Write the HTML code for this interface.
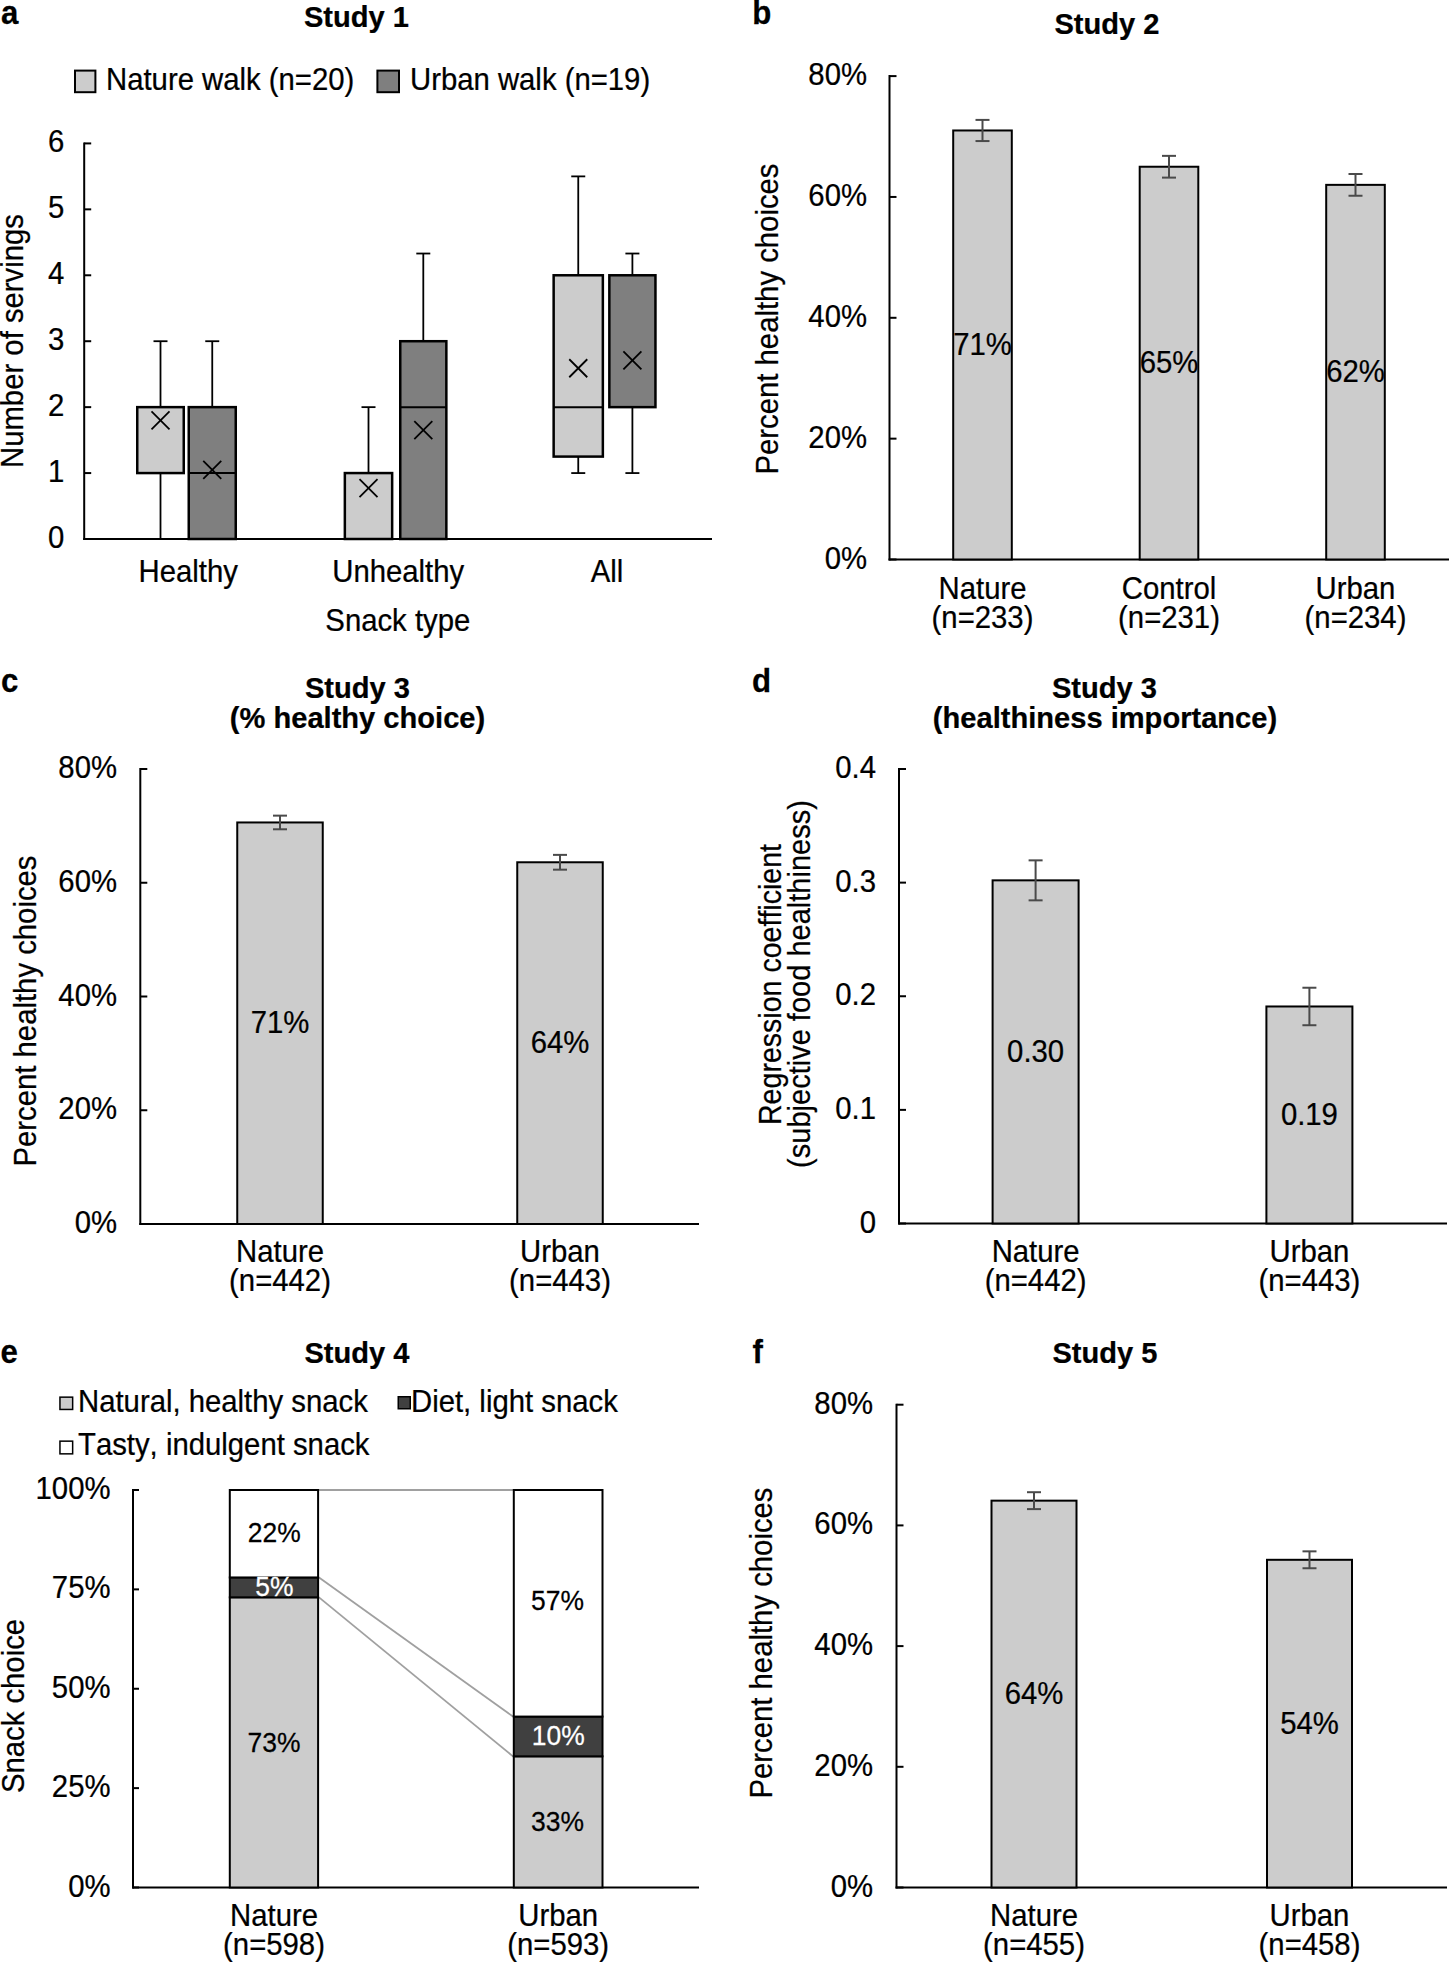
<!DOCTYPE html>
<html><head><meta charset="utf-8"><style>
html,body{margin:0;padding:0;background:#fff;}
svg{display:block;}
text{font-family:"Liberation Sans", sans-serif;font-kerning:none;font-variant-ligatures:none;}
</style></head><body>
<svg width="1450" height="1963" viewBox="0 0 1450 1963" font-family='"Liberation Sans", sans-serif'>
<rect width="1450" height="1963" fill="#fff"/>
<text transform="translate(1.0,24) scale(0.92,1)" font-size="34" font-weight="bold" fill="#000" stroke="#000" stroke-width="0.25">a</text>
<text transform="translate(356.5,27) scale(0.97,1)" font-size="30" text-anchor="middle" font-weight="bold" fill="#000" stroke="#000" stroke-width="0.25">Study 1</text>
<rect x="75.00" y="70.60" width="20.40" height="21.60" fill="#cccccc" stroke="#000" stroke-width="2"/>
<text transform="translate(106,90) scale(0.9451612903225807,1)" font-size="31" fill="#000" stroke="#000" stroke-width="0.25">Nature walk (n=20)</text>
<rect x="377.40" y="70.60" width="21.60" height="21.60" fill="#7f7f7f" stroke="#000" stroke-width="2"/>
<text transform="translate(410,90) scale(0.9451612903225807,1)" font-size="31" fill="#000" stroke="#000" stroke-width="0.25">Urban walk (n=19)</text>
<line x1="84.2" y1="142.41999999999996" x2="84.2" y2="540" stroke="#000" stroke-width="2"/>
<line x1="83.2" y1="539" x2="712" y2="539" stroke="#000" stroke-width="2"/>
<line x1="84.2" y1="539.0" x2="91.2" y2="539.0" stroke="#000" stroke-width="2"/>
<text transform="translate(64.3,548.0) scale(0.9451612903225807,1)" font-size="31" text-anchor="end" fill="#000" stroke="#000" stroke-width="0.25">0</text>
<line x1="84.2" y1="473.07" x2="91.2" y2="473.07" stroke="#000" stroke-width="2"/>
<text transform="translate(64.3,482.07) scale(0.9451612903225807,1)" font-size="31" text-anchor="end" fill="#000" stroke="#000" stroke-width="0.25">1</text>
<line x1="84.2" y1="407.14" x2="91.2" y2="407.14" stroke="#000" stroke-width="2"/>
<text transform="translate(64.3,416.14) scale(0.9451612903225807,1)" font-size="31" text-anchor="end" fill="#000" stroke="#000" stroke-width="0.25">2</text>
<line x1="84.2" y1="341.21" x2="91.2" y2="341.21" stroke="#000" stroke-width="2"/>
<text transform="translate(64.3,350.21) scale(0.9451612903225807,1)" font-size="31" text-anchor="end" fill="#000" stroke="#000" stroke-width="0.25">3</text>
<line x1="84.2" y1="275.28" x2="91.2" y2="275.28" stroke="#000" stroke-width="2"/>
<text transform="translate(64.3,284.28) scale(0.9451612903225807,1)" font-size="31" text-anchor="end" fill="#000" stroke="#000" stroke-width="0.25">4</text>
<line x1="84.2" y1="209.34999999999997" x2="91.2" y2="209.34999999999997" stroke="#000" stroke-width="2"/>
<text transform="translate(64.3,218.34999999999997) scale(0.9451612903225807,1)" font-size="31" text-anchor="end" fill="#000" stroke="#000" stroke-width="0.25">5</text>
<line x1="84.2" y1="143.41999999999996" x2="91.2" y2="143.41999999999996" stroke="#000" stroke-width="2"/>
<text transform="translate(64.3,152.41999999999996) scale(0.9451612903225807,1)" font-size="31" text-anchor="end" fill="#000" stroke="#000" stroke-width="0.25">6</text>
<line x1="160.5" y1="341.21" x2="160.5" y2="407.14" stroke="#000" stroke-width="1.8"/>
<line x1="153.5" y1="341.21" x2="167.5" y2="341.21" stroke="#000" stroke-width="1.8"/>
<line x1="160.5" y1="473.07" x2="160.5" y2="539.0" stroke="#000" stroke-width="1.8"/>
<line x1="153.5" y1="539.0" x2="167.5" y2="539.0" stroke="#000" stroke-width="1.8"/>
<rect x="137.25" y="407.14" width="46.50" height="65.93" fill="#cccccc" stroke="#000" stroke-width="2.5"/>
<line x1="151.5" y1="411.32599999999996" x2="169.5" y2="429.32599999999996" stroke="#000" stroke-width="1.8"/>
<line x1="151.5" y1="429.32599999999996" x2="169.5" y2="411.32599999999996" stroke="#000" stroke-width="1.8"/>
<line x1="212.25" y1="341.21" x2="212.25" y2="407.14" stroke="#000" stroke-width="1.8"/>
<line x1="205.25" y1="341.21" x2="219.25" y2="341.21" stroke="#000" stroke-width="1.8"/>
<rect x="188.75" y="407.14" width="47.00" height="131.86" fill="#7f7f7f" stroke="#000" stroke-width="2.5"/>
<line x1="188.5" y1="473.07" x2="236" y2="473.07" stroke="#000" stroke-width="2"/>
<line x1="203.25" y1="460.7735" x2="221.25" y2="478.7735" stroke="#000" stroke-width="1.8"/>
<line x1="203.25" y1="478.7735" x2="221.25" y2="460.7735" stroke="#000" stroke-width="1.8"/>
<line x1="368.5" y1="407.14" x2="368.5" y2="473.07" stroke="#000" stroke-width="1.8"/>
<line x1="361.5" y1="407.14" x2="375.5" y2="407.14" stroke="#000" stroke-width="1.8"/>
<rect x="344.85" y="473.07" width="47.30" height="65.93" fill="#cccccc" stroke="#000" stroke-width="2.5"/>
<line x1="359.5" y1="479.2339" x2="377.5" y2="497.2339" stroke="#000" stroke-width="1.8"/>
<line x1="359.5" y1="497.2339" x2="377.5" y2="479.2339" stroke="#000" stroke-width="1.8"/>
<line x1="423.3" y1="253.52309999999994" x2="423.3" y2="341.21" stroke="#000" stroke-width="1.8"/>
<line x1="416.3" y1="253.52309999999994" x2="430.3" y2="253.52309999999994" stroke="#000" stroke-width="1.8"/>
<rect x="400.25" y="341.21" width="46.10" height="197.79" fill="#7f7f7f" stroke="#000" stroke-width="2.5"/>
<line x1="400" y1="407.14" x2="446.6" y2="407.14" stroke="#000" stroke-width="2"/>
<line x1="414.3" y1="421.2155" x2="432.3" y2="439.2155" stroke="#000" stroke-width="1.8"/>
<line x1="414.3" y1="439.2155" x2="432.3" y2="421.2155" stroke="#000" stroke-width="1.8"/>
<line x1="578.25" y1="176.385" x2="578.25" y2="275.28" stroke="#000" stroke-width="1.8"/>
<line x1="571.25" y1="176.385" x2="585.25" y2="176.385" stroke="#000" stroke-width="1.8"/>
<line x1="578.25" y1="456.5875" x2="578.25" y2="473.07" stroke="#000" stroke-width="1.8"/>
<line x1="571.25" y1="473.07" x2="585.25" y2="473.07" stroke="#000" stroke-width="1.8"/>
<rect x="553.65" y="275.28" width="49.20" height="181.31" fill="#cccccc" stroke="#000" stroke-width="2.5"/>
<line x1="553.4" y1="407.14" x2="603.1" y2="407.14" stroke="#000" stroke-width="2"/>
<line x1="569.25" y1="359.2413" x2="587.25" y2="377.2413" stroke="#000" stroke-width="1.8"/>
<line x1="569.25" y1="377.2413" x2="587.25" y2="359.2413" stroke="#000" stroke-width="1.8"/>
<line x1="632.4000000000001" y1="253.52309999999994" x2="632.4000000000001" y2="275.28" stroke="#000" stroke-width="1.8"/>
<line x1="625.4000000000001" y1="253.52309999999994" x2="639.4000000000001" y2="253.52309999999994" stroke="#000" stroke-width="1.8"/>
<line x1="632.4000000000001" y1="407.14" x2="632.4000000000001" y2="473.07" stroke="#000" stroke-width="1.8"/>
<line x1="625.4000000000001" y1="473.07" x2="639.4000000000001" y2="473.07" stroke="#000" stroke-width="1.8"/>
<rect x="609.35" y="275.28" width="46.10" height="131.86" fill="#7f7f7f" stroke="#000" stroke-width="2.5"/>
<line x1="623.4000000000001" y1="351.3297" x2="641.4000000000001" y2="369.3297" stroke="#000" stroke-width="1.8"/>
<line x1="623.4000000000001" y1="369.3297" x2="641.4000000000001" y2="351.3297" stroke="#000" stroke-width="1.8"/>
<text transform="translate(188.2,582) scale(0.9451612903225807,1)" font-size="31" text-anchor="middle" fill="#000" stroke="#000" stroke-width="0.25">Healthy</text>
<text transform="translate(398.2,582) scale(0.9451612903225807,1)" font-size="31" text-anchor="middle" fill="#000" stroke="#000" stroke-width="0.25">Unhealthy</text>
<text transform="translate(607,582) scale(0.9451612903225807,1)" font-size="31" text-anchor="middle" fill="#000" stroke="#000" stroke-width="0.25">All</text>
<text transform="translate(397.8,631) scale(0.9451612903225807,1)" font-size="31" text-anchor="middle" fill="#000" stroke="#000" stroke-width="0.25">Snack type</text>
<text transform="translate(22.8,341) rotate(-90) scale(0.9451612903225807,1)" font-size="31" text-anchor="middle" fill="#000" stroke="#000" stroke-width="0.25">Number of servings</text>
<text transform="translate(752.3,23.6) scale(0.92,1)" font-size="34" font-weight="bold" fill="#000" stroke="#000" stroke-width="0.25">b</text>
<text transform="translate(1107,34) scale(0.97,1)" font-size="30" text-anchor="middle" font-weight="bold" fill="#000" stroke="#000" stroke-width="0.25">Study 2</text>
<line x1="889.5" y1="75.09999999999997" x2="889.5" y2="560.5" stroke="#000" stroke-width="2"/>
<line x1="888.5" y1="559.5" x2="1449" y2="559.5" stroke="#000" stroke-width="2"/>
<line x1="889.5" y1="559.5" x2="896.5" y2="559.5" stroke="#000" stroke-width="2"/>
<text transform="translate(867,568.5) scale(0.9451612903225807,1)" font-size="31" text-anchor="end" fill="#000" stroke="#000" stroke-width="0.25">0%</text>
<line x1="889.5" y1="438.65" x2="896.5" y2="438.65" stroke="#000" stroke-width="2"/>
<text transform="translate(867,447.65) scale(0.9451612903225807,1)" font-size="31" text-anchor="end" fill="#000" stroke="#000" stroke-width="0.25">20%</text>
<line x1="889.5" y1="317.79999999999995" x2="896.5" y2="317.79999999999995" stroke="#000" stroke-width="2"/>
<text transform="translate(867,326.79999999999995) scale(0.9451612903225807,1)" font-size="31" text-anchor="end" fill="#000" stroke="#000" stroke-width="0.25">40%</text>
<line x1="889.5" y1="196.95" x2="896.5" y2="196.95" stroke="#000" stroke-width="2"/>
<text transform="translate(867,205.95) scale(0.9451612903225807,1)" font-size="31" text-anchor="end" fill="#000" stroke="#000" stroke-width="0.25">60%</text>
<line x1="889.5" y1="76.09999999999997" x2="896.5" y2="76.09999999999997" stroke="#000" stroke-width="2"/>
<text transform="translate(867,85.09999999999997) scale(0.9451612903225807,1)" font-size="31" text-anchor="end" fill="#000" stroke="#000" stroke-width="0.25">80%</text>
<rect x="953.20" y="130.48" width="58.60" height="429.02" fill="#cccccc" stroke="#000" stroke-width="2"/>
<line x1="982.5" y1="119.90812499999998" x2="982.5" y2="141.056875" stroke="#4a4a4a" stroke-width="2"/>
<line x1="975.5" y1="119.90812499999998" x2="989.5" y2="119.90812499999998" stroke="#4a4a4a" stroke-width="2"/>
<line x1="975.5" y1="141.056875" x2="989.5" y2="141.056875" stroke="#4a4a4a" stroke-width="2"/>
<text transform="translate(982.5,354.99125) scale(0.9451612903225807,1)" font-size="31" text-anchor="middle" fill="#000" stroke="#000" stroke-width="0.25">71%</text>
<text transform="translate(982.5,598.5) scale(0.9451612903225807,1)" font-size="31" text-anchor="middle" fill="#000" stroke="#000" stroke-width="0.25">Nature</text>
<text transform="translate(982.5,627.7) scale(0.9451612903225807,1)" font-size="31" text-anchor="middle" fill="#000" stroke="#000" stroke-width="0.25">(n=233)</text>
<rect x="1139.70" y="166.74" width="58.60" height="392.76" fill="#cccccc" stroke="#000" stroke-width="2"/>
<line x1="1169" y1="155.861" x2="1169" y2="177.61399999999998" stroke="#4a4a4a" stroke-width="2"/>
<line x1="1162.0" y1="155.861" x2="1176.0" y2="155.861" stroke="#4a4a4a" stroke-width="2"/>
<line x1="1162.0" y1="177.61399999999998" x2="1176.0" y2="177.61399999999998" stroke="#4a4a4a" stroke-width="2"/>
<text transform="translate(1169,373.11875) scale(0.9451612903225807,1)" font-size="31" text-anchor="middle" fill="#000" stroke="#000" stroke-width="0.25">65%</text>
<text transform="translate(1169,598.5) scale(0.9451612903225807,1)" font-size="31" text-anchor="middle" fill="#000" stroke="#000" stroke-width="0.25">Control</text>
<text transform="translate(1169,627.7) scale(0.9451612903225807,1)" font-size="31" text-anchor="middle" fill="#000" stroke="#000" stroke-width="0.25">(n=231)</text>
<rect x="1326.20" y="184.86" width="58.60" height="374.64" fill="#cccccc" stroke="#000" stroke-width="2"/>
<line x1="1355.5" y1="173.9885" x2="1355.5" y2="195.74149999999997" stroke="#4a4a4a" stroke-width="2"/>
<line x1="1348.5" y1="173.9885" x2="1362.5" y2="173.9885" stroke="#4a4a4a" stroke-width="2"/>
<line x1="1348.5" y1="195.74149999999997" x2="1362.5" y2="195.74149999999997" stroke="#4a4a4a" stroke-width="2"/>
<text transform="translate(1355.5,382.1825) scale(0.9451612903225807,1)" font-size="31" text-anchor="middle" fill="#000" stroke="#000" stroke-width="0.25">62%</text>
<text transform="translate(1355.5,598.5) scale(0.9451612903225807,1)" font-size="31" text-anchor="middle" fill="#000" stroke="#000" stroke-width="0.25">Urban</text>
<text transform="translate(1355.5,627.7) scale(0.9451612903225807,1)" font-size="31" text-anchor="middle" fill="#000" stroke="#000" stroke-width="0.25">(n=234)</text>
<text transform="translate(777.5,319) rotate(-90) scale(0.9451612903225807,1)" font-size="31" text-anchor="middle" fill="#000" stroke="#000" stroke-width="0.25">Percent healthy choices</text>
<text transform="translate(1.0,692.3) scale(0.92,1)" font-size="34" font-weight="bold" fill="#000" stroke="#000" stroke-width="0.25">c</text>
<text transform="translate(357.5,697.5) scale(0.97,1)" font-size="30" text-anchor="middle" font-weight="bold" fill="#000" stroke="#000" stroke-width="0.25">Study 3</text>
<text transform="translate(357.5,727.5) scale(0.97,1)" font-size="30" text-anchor="middle" font-weight="bold" fill="#000" stroke="#000" stroke-width="0.25">(% healthy choice)</text>
<line x1="140.3" y1="768.0" x2="140.3" y2="1225" stroke="#000" stroke-width="2"/>
<line x1="139.3" y1="1224" x2="699" y2="1224" stroke="#000" stroke-width="2"/>
<line x1="140.3" y1="1224.0" x2="147.3" y2="1224.0" stroke="#000" stroke-width="2"/>
<text transform="translate(117,1233.0) scale(0.9451612903225807,1)" font-size="31" text-anchor="end" fill="#000" stroke="#000" stroke-width="0.25">0%</text>
<line x1="140.3" y1="1110.25" x2="147.3" y2="1110.25" stroke="#000" stroke-width="2"/>
<text transform="translate(117,1119.25) scale(0.9451612903225807,1)" font-size="31" text-anchor="end" fill="#000" stroke="#000" stroke-width="0.25">20%</text>
<line x1="140.3" y1="996.5" x2="147.3" y2="996.5" stroke="#000" stroke-width="2"/>
<text transform="translate(117,1005.5) scale(0.9451612903225807,1)" font-size="31" text-anchor="end" fill="#000" stroke="#000" stroke-width="0.25">40%</text>
<line x1="140.3" y1="882.75" x2="147.3" y2="882.75" stroke="#000" stroke-width="2"/>
<text transform="translate(117,891.75) scale(0.9451612903225807,1)" font-size="31" text-anchor="end" fill="#000" stroke="#000" stroke-width="0.25">60%</text>
<line x1="140.3" y1="769.0" x2="147.3" y2="769.0" stroke="#000" stroke-width="2"/>
<text transform="translate(117,778.0) scale(0.9451612903225807,1)" font-size="31" text-anchor="end" fill="#000" stroke="#000" stroke-width="0.25">80%</text>
<rect x="237.25" y="822.46" width="85.50" height="401.54" fill="#cccccc" stroke="#000" stroke-width="2"/>
<line x1="280" y1="815.6375" x2="280" y2="829.2875" stroke="#4a4a4a" stroke-width="2"/>
<line x1="273.0" y1="815.6375" x2="287.0" y2="815.6375" stroke="#4a4a4a" stroke-width="2"/>
<line x1="273.0" y1="829.2875" x2="287.0" y2="829.2875" stroke="#4a4a4a" stroke-width="2"/>
<text transform="translate(280,1033.23125) scale(0.9451612903225807,1)" font-size="31" text-anchor="middle" fill="#000" stroke="#000" stroke-width="0.25">71%</text>
<text transform="translate(280,1262.2) scale(0.9451612903225807,1)" font-size="31" text-anchor="middle" fill="#000" stroke="#000" stroke-width="0.25">Nature</text>
<text transform="translate(280,1291) scale(0.9451612903225807,1)" font-size="31" text-anchor="middle" fill="#000" stroke="#000" stroke-width="0.25">(n=442)</text>
<rect x="517.25" y="862.27" width="85.50" height="361.73" fill="#cccccc" stroke="#000" stroke-width="2"/>
<line x1="560" y1="854.8812499999999" x2="560" y2="869.66875" stroke="#4a4a4a" stroke-width="2"/>
<line x1="553.0" y1="854.8812499999999" x2="567.0" y2="854.8812499999999" stroke="#4a4a4a" stroke-width="2"/>
<line x1="553.0" y1="869.66875" x2="567.0" y2="869.66875" stroke="#4a4a4a" stroke-width="2"/>
<text transform="translate(560,1053.1375) scale(0.9451612903225807,1)" font-size="31" text-anchor="middle" fill="#000" stroke="#000" stroke-width="0.25">64%</text>
<text transform="translate(560,1262.2) scale(0.9451612903225807,1)" font-size="31" text-anchor="middle" fill="#000" stroke="#000" stroke-width="0.25">Urban</text>
<text transform="translate(560,1291) scale(0.9451612903225807,1)" font-size="31" text-anchor="middle" fill="#000" stroke="#000" stroke-width="0.25">(n=443)</text>
<text transform="translate(36,1011) rotate(-90) scale(0.9451612903225807,1)" font-size="31" text-anchor="middle" fill="#000" stroke="#000" stroke-width="0.25">Percent healthy choices</text>
<text transform="translate(752.1,692.3) scale(0.92,1)" font-size="34" font-weight="bold" fill="#000" stroke="#000" stroke-width="0.25">d</text>
<text transform="translate(1104.5,697.5) scale(0.97,1)" font-size="30" text-anchor="middle" font-weight="bold" fill="#000" stroke="#000" stroke-width="0.25">Study 3</text>
<text transform="translate(1105,727.5) scale(0.97,1)" font-size="30" text-anchor="middle" font-weight="bold" fill="#000" stroke="#000" stroke-width="0.25">(healthiness importance)</text>
<line x1="899" y1="768.0" x2="899" y2="1224.5" stroke="#000" stroke-width="2"/>
<line x1="898" y1="1223.5" x2="1447" y2="1223.5" stroke="#000" stroke-width="2"/>
<line x1="899" y1="1223.5" x2="906" y2="1223.5" stroke="#000" stroke-width="2"/>
<text transform="translate(876,1232.5) scale(0.9451612903225807,1)" font-size="31" text-anchor="end" fill="#000" stroke="#000" stroke-width="0.25">0</text>
<line x1="899" y1="1109.875" x2="906" y2="1109.875" stroke="#000" stroke-width="2"/>
<text transform="translate(876,1118.875) scale(0.9451612903225807,1)" font-size="31" text-anchor="end" fill="#000" stroke="#000" stroke-width="0.25">0.1</text>
<line x1="899" y1="996.25" x2="906" y2="996.25" stroke="#000" stroke-width="2"/>
<text transform="translate(876,1005.25) scale(0.9451612903225807,1)" font-size="31" text-anchor="end" fill="#000" stroke="#000" stroke-width="0.25">0.2</text>
<line x1="899" y1="882.625" x2="906" y2="882.625" stroke="#000" stroke-width="2"/>
<text transform="translate(876,891.625) scale(0.9451612903225807,1)" font-size="31" text-anchor="end" fill="#000" stroke="#000" stroke-width="0.25">0.3</text>
<line x1="899" y1="769.0" x2="906" y2="769.0" stroke="#000" stroke-width="2"/>
<text transform="translate(876,778.0) scale(0.9451612903225807,1)" font-size="31" text-anchor="end" fill="#000" stroke="#000" stroke-width="0.25">0.4</text>
<rect x="992.60" y="880.35" width="86.00" height="343.15" fill="#cccccc" stroke="#000" stroke-width="2"/>
<line x1="1035.6" y1="860.3545" x2="1035.6" y2="900.3505" stroke="#4a4a4a" stroke-width="2"/>
<line x1="1028.6" y1="860.3545" x2="1042.6" y2="860.3545" stroke="#4a4a4a" stroke-width="2"/>
<line x1="1028.6" y1="900.3505" x2="1042.6" y2="900.3505" stroke="#4a4a4a" stroke-width="2"/>
<text transform="translate(1035.6,1061.92625) scale(0.9451612903225807,1)" font-size="31" text-anchor="middle" fill="#000" stroke="#000" stroke-width="0.25">0.30</text>
<text transform="translate(1035.6,1262.2) scale(0.9451612903225807,1)" font-size="31" text-anchor="middle" fill="#000" stroke="#000" stroke-width="0.25">Nature</text>
<text transform="translate(1035.6,1291) scale(0.9451612903225807,1)" font-size="31" text-anchor="middle" fill="#000" stroke="#000" stroke-width="0.25">(n=442)</text>
<rect x="1266.40" y="1006.48" width="86.00" height="217.02" fill="#cccccc" stroke="#000" stroke-width="2"/>
<line x1="1309.4" y1="987.728125" x2="1309.4" y2="1025.224375" stroke="#4a4a4a" stroke-width="2"/>
<line x1="1302.4" y1="987.728125" x2="1316.4" y2="987.728125" stroke="#4a4a4a" stroke-width="2"/>
<line x1="1302.4" y1="1025.224375" x2="1316.4" y2="1025.224375" stroke="#4a4a4a" stroke-width="2"/>
<text transform="translate(1309.4,1124.9881249999999) scale(0.9451612903225807,1)" font-size="31" text-anchor="middle" fill="#000" stroke="#000" stroke-width="0.25">0.19</text>
<text transform="translate(1309.4,1262.2) scale(0.9451612903225807,1)" font-size="31" text-anchor="middle" fill="#000" stroke="#000" stroke-width="0.25">Urban</text>
<text transform="translate(1309.4,1291) scale(0.9451612903225807,1)" font-size="31" text-anchor="middle" fill="#000" stroke="#000" stroke-width="0.25">(n=443)</text>
<text transform="translate(781,984.5) rotate(-90) scale(0.922,1)" font-size="31" text-anchor="middle" fill="#000" stroke="#000" stroke-width="0.25">Regression coefficient</text>
<text transform="translate(810,984) rotate(-90) scale(0.937,1)" font-size="31" text-anchor="middle" fill="#000" stroke="#000" stroke-width="0.25">(subjective food healthiness)</text>
<text transform="translate(0.6,1362.9) scale(0.92,1)" font-size="34" font-weight="bold" fill="#000" stroke="#000" stroke-width="0.25">e</text>
<text transform="translate(357,1362.5) scale(0.97,1)" font-size="30" text-anchor="middle" font-weight="bold" fill="#000" stroke="#000" stroke-width="0.25">Study 4</text>
<rect x="59.95" y="1397.15" width="12.70" height="12.30" fill="#cccccc" stroke="#000" stroke-width="1.5"/>
<text transform="translate(78,1411.5) scale(0.9451612903225807,1)" font-size="31" fill="#000" stroke="#000" stroke-width="0.25">Natural, healthy snack</text>
<rect x="398.25" y="1396.75" width="12.00" height="12.00" fill="#404040" stroke="#000" stroke-width="1.5"/>
<text transform="translate(411,1411.5) scale(0.9451612903225807,1)" font-size="31" fill="#000" stroke="#000" stroke-width="0.25">Diet, light snack</text>
<rect x="59.95" y="1441.15" width="12.70" height="12.70" fill="#fff" stroke="#000" stroke-width="1.5"/>
<text transform="translate(78,1455) scale(0.9451612903225807,1)" font-size="31" fill="#000" stroke="#000" stroke-width="0.25">Tasty, indulgent snack</text>
<line x1="133" y1="1489.0" x2="133" y2="1888.5" stroke="#000" stroke-width="2"/>
<line x1="132" y1="1887.5" x2="699" y2="1887.5" stroke="#000" stroke-width="2"/>
<line x1="133" y1="1887.5" x2="139" y2="1887.5" stroke="#000" stroke-width="2"/>
<text transform="translate(110.5,1896.5) scale(0.9451612903225807,1)" font-size="31" text-anchor="end" fill="#000" stroke="#000" stroke-width="0.25">0%</text>
<line x1="133" y1="1788.125" x2="139" y2="1788.125" stroke="#000" stroke-width="2"/>
<text transform="translate(110.5,1797.125) scale(0.9451612903225807,1)" font-size="31" text-anchor="end" fill="#000" stroke="#000" stroke-width="0.25">25%</text>
<line x1="133" y1="1688.75" x2="139" y2="1688.75" stroke="#000" stroke-width="2"/>
<text transform="translate(110.5,1697.75) scale(0.9451612903225807,1)" font-size="31" text-anchor="end" fill="#000" stroke="#000" stroke-width="0.25">50%</text>
<line x1="133" y1="1589.375" x2="139" y2="1589.375" stroke="#000" stroke-width="2"/>
<text transform="translate(110.5,1598.375) scale(0.9451612903225807,1)" font-size="31" text-anchor="end" fill="#000" stroke="#000" stroke-width="0.25">75%</text>
<line x1="133" y1="1490.0" x2="139" y2="1490.0" stroke="#000" stroke-width="2"/>
<text transform="translate(110.5,1499.0) scale(0.9451612903225807,1)" font-size="31" text-anchor="end" fill="#000" stroke="#000" stroke-width="0.25">100%</text>
<line x1="319" y1="1490.0" x2="513" y2="1490.0" stroke="#a0a0a0" stroke-width="1.8"/>
<line x1="319" y1="1577.45" x2="513" y2="1716.575" stroke="#a0a0a0" stroke-width="1.8"/>
<line x1="319" y1="1597.325" x2="513" y2="1756.325" stroke="#a0a0a0" stroke-width="1.8"/>
<rect x="229.80" y="1597.33" width="88.30" height="290.17" fill="#cccccc" stroke="#000" stroke-width="2"/>
<rect x="229.80" y="1577.45" width="88.30" height="19.88" fill="#404040" stroke="#000" stroke-width="2"/>
<rect x="229.80" y="1490.00" width="88.30" height="87.45" fill="#fff" stroke="#000" stroke-width="2"/>
<rect x="513.80" y="1756.33" width="88.70" height="131.17" fill="#cccccc" stroke="#000" stroke-width="2"/>
<rect x="513.80" y="1716.58" width="88.70" height="39.75" fill="#404040" stroke="#000" stroke-width="2"/>
<rect x="513.80" y="1490.00" width="88.70" height="226.58" fill="#fff" stroke="#000" stroke-width="2"/>
<text transform="translate(274,1751.5) scale(0.945,1)" font-size="28" text-anchor="middle" fill="#000" stroke="#000" stroke-width="0.25">73%</text>
<text transform="translate(274.3,1596) scale(0.945,1)" font-size="28" text-anchor="middle" fill="#fff" stroke="#fff" stroke-width="0.25">5%</text>
<text transform="translate(274.3,1541.5) scale(0.945,1)" font-size="28" text-anchor="middle" fill="#000" stroke="#000" stroke-width="0.25">22%</text>
<text transform="translate(557.5,1831) scale(0.945,1)" font-size="28" text-anchor="middle" fill="#000" stroke="#000" stroke-width="0.25">33%</text>
<text transform="translate(558.3,1744.5) scale(0.945,1)" font-size="28" text-anchor="middle" fill="#fff" stroke="#fff" stroke-width="0.25">10%</text>
<text transform="translate(557.5,1610) scale(0.945,1)" font-size="28" text-anchor="middle" fill="#000" stroke="#000" stroke-width="0.25">57%</text>
<text transform="translate(274,1926.4) scale(0.9451612903225807,1)" font-size="31" text-anchor="middle" fill="#000" stroke="#000" stroke-width="0.25">Nature</text>
<text transform="translate(274,1955.3) scale(0.9451612903225807,1)" font-size="31" text-anchor="middle" fill="#000" stroke="#000" stroke-width="0.25">(n=598)</text>
<text transform="translate(558.2,1926.4) scale(0.9451612903225807,1)" font-size="31" text-anchor="middle" fill="#000" stroke="#000" stroke-width="0.25">Urban</text>
<text transform="translate(558.2,1955.3) scale(0.9451612903225807,1)" font-size="31" text-anchor="middle" fill="#000" stroke="#000" stroke-width="0.25">(n=593)</text>
<text transform="translate(23.7,1706) rotate(-90) scale(0.9451612903225807,1)" font-size="31" text-anchor="middle" fill="#000" stroke="#000" stroke-width="0.25">Snack choice</text>
<text transform="translate(752.4,1362.8) scale(0.92,1)" font-size="34" font-weight="bold" fill="#000" stroke="#000" stroke-width="0.25">f</text>
<text transform="translate(1105,1362.5) scale(0.97,1)" font-size="30" text-anchor="middle" font-weight="bold" fill="#000" stroke="#000" stroke-width="0.25">Study 5</text>
<line x1="896.5" y1="1403.7" x2="896.5" y2="1888.5" stroke="#000" stroke-width="2"/>
<line x1="895.5" y1="1887.5" x2="1447" y2="1887.5" stroke="#000" stroke-width="2"/>
<line x1="896.5" y1="1887.5" x2="903.5" y2="1887.5" stroke="#000" stroke-width="2"/>
<text transform="translate(873,1896.5) scale(0.9451612903225807,1)" font-size="31" text-anchor="end" fill="#000" stroke="#000" stroke-width="0.25">0%</text>
<line x1="896.5" y1="1766.8" x2="903.5" y2="1766.8" stroke="#000" stroke-width="2"/>
<text transform="translate(873,1775.8) scale(0.9451612903225807,1)" font-size="31" text-anchor="end" fill="#000" stroke="#000" stroke-width="0.25">20%</text>
<line x1="896.5" y1="1646.1" x2="903.5" y2="1646.1" stroke="#000" stroke-width="2"/>
<text transform="translate(873,1655.1) scale(0.9451612903225807,1)" font-size="31" text-anchor="end" fill="#000" stroke="#000" stroke-width="0.25">40%</text>
<line x1="896.5" y1="1525.4" x2="903.5" y2="1525.4" stroke="#000" stroke-width="2"/>
<text transform="translate(873,1534.4) scale(0.9451612903225807,1)" font-size="31" text-anchor="end" fill="#000" stroke="#000" stroke-width="0.25">60%</text>
<line x1="896.5" y1="1404.7" x2="903.5" y2="1404.7" stroke="#000" stroke-width="2"/>
<text transform="translate(873,1413.7) scale(0.9451612903225807,1)" font-size="31" text-anchor="end" fill="#000" stroke="#000" stroke-width="0.25">80%</text>
<rect x="991.50" y="1500.66" width="85.00" height="386.84" fill="#cccccc" stroke="#000" stroke-width="2"/>
<line x1="1034" y1="1492.2075" x2="1034" y2="1509.1055000000001" stroke="#4a4a4a" stroke-width="2"/>
<line x1="1027.0" y1="1492.2075" x2="1041.0" y2="1492.2075" stroke="#4a4a4a" stroke-width="2"/>
<line x1="1027.0" y1="1509.1055000000001" x2="1041.0" y2="1509.1055000000001" stroke="#4a4a4a" stroke-width="2"/>
<text transform="translate(1034,1704.07825) scale(0.9451612903225807,1)" font-size="31" text-anchor="middle" fill="#000" stroke="#000" stroke-width="0.25">64%</text>
<text transform="translate(1034,1926.4) scale(0.9451612903225807,1)" font-size="31" text-anchor="middle" fill="#000" stroke="#000" stroke-width="0.25">Nature</text>
<text transform="translate(1034,1955.3) scale(0.9451612903225807,1)" font-size="31" text-anchor="middle" fill="#000" stroke="#000" stroke-width="0.25">(n=455)</text>
<rect x="1267.00" y="1559.80" width="85.00" height="327.70" fill="#cccccc" stroke="#000" stroke-width="2"/>
<line x1="1309.5" y1="1551.3505" x2="1309.5" y2="1568.2485" stroke="#4a4a4a" stroke-width="2"/>
<line x1="1302.5" y1="1551.3505" x2="1316.5" y2="1551.3505" stroke="#4a4a4a" stroke-width="2"/>
<line x1="1302.5" y1="1568.2485" x2="1316.5" y2="1568.2485" stroke="#4a4a4a" stroke-width="2"/>
<text transform="translate(1309.5,1733.64975) scale(0.9451612903225807,1)" font-size="31" text-anchor="middle" fill="#000" stroke="#000" stroke-width="0.25">54%</text>
<text transform="translate(1309.5,1926.4) scale(0.9451612903225807,1)" font-size="31" text-anchor="middle" fill="#000" stroke="#000" stroke-width="0.25">Urban</text>
<text transform="translate(1309.5,1955.3) scale(0.9451612903225807,1)" font-size="31" text-anchor="middle" fill="#000" stroke="#000" stroke-width="0.25">(n=458)</text>
<text transform="translate(772,1643) rotate(-90) scale(0.9451612903225807,1)" font-size="31" text-anchor="middle" fill="#000" stroke="#000" stroke-width="0.25">Percent healthy choices</text>
</svg></body></html>
